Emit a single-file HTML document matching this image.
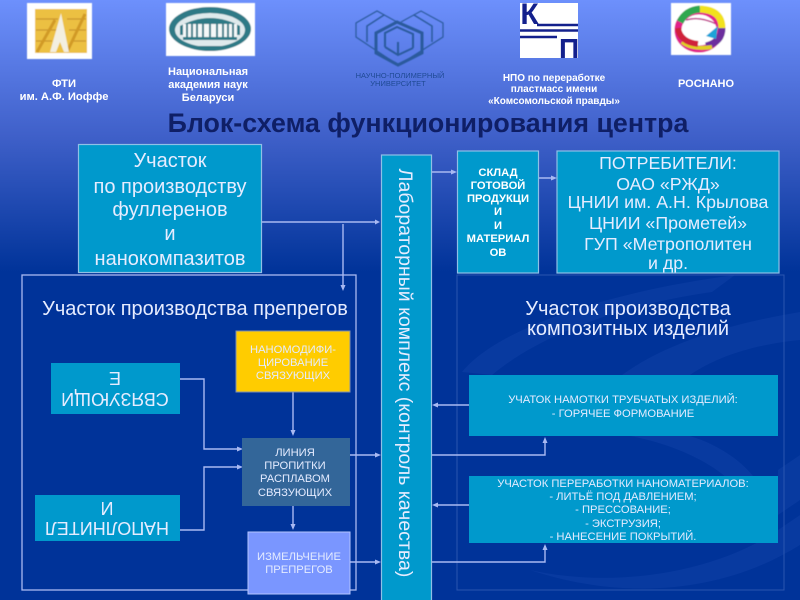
<!DOCTYPE html>
<html><head><meta charset="utf-8"><style>
html,body{margin:0;padding:0;background:#003399}
svg{display:block}
text{font-family:"Liberation Sans",sans-serif;text-anchor:middle}
.w{fill:#fff;font-weight:bold;font-size:11px}
.b{fill:#e6ecff;font-size:20px}
.s{fill:#e4ebff;font-size:11.200px}
.sb{fill:#fff;font-weight:bold;font-size:11.200px}
.l{stroke:#a9b9f2;stroke-width:1.4;fill:none}
.a{fill:#a9b9f2}
</style></head><body>
<svg width="800" height="600" viewBox="0 0 800 600" xmlns="http://www.w3.org/2000/svg">
<defs>
<linearGradient id="g" x1="0" y1="0" x2="0" y2="1"><stop offset="0" stop-color="#6d90fc"/><stop offset=".5" stop-color="#3f60c9"/><stop offset="1" stop-color="#003399"/></linearGradient>
<filter id="bl" x="-5%" y="-5%" width="110%" height="110%"><feGaussianBlur stdDeviation="0.600"/></filter>
</defs>
<rect width="800" height="600" fill="#003399"/>
<rect width="800" height="272" fill="url(#g)"/>

<g fill="#083aa0">
<path d="M462 372C500 325 620 290 735 275L712 292C620 305 540 335 492 375Z"/>
<path d="M622 375C670 340 740 322 800 312V340C750 345 715 358 690 375Z"/>
<path d="M630 436C680 445 730 470 745 500L762 490C750 465 720 445 690 436Z"/>
<path d="M778 470L800 455V500L778 515Z"/>
<path d="M530 570C620 590 720 570 778 530L800 515V545C720 595 620 600 530 570Z"/>
</g>

<!-- logos -->
<g filter="url(#bl)">
<rect x="27" y="3" width="65" height="56" fill="#fff"/>
<rect x="35" y="9" width="52" height="44" fill="#ecc043"/>
<path d="M36 19H58M67 19H86M36 30H56M69 30H86M36 41H52M72 41H86" stroke="#c9942a" stroke-width="1.300"/>
<path d="M37 52L55 20M67 52L85 14" stroke="#d19a26" stroke-width="3"/>
<path d="M61 13L69 52H64L60 42L56 52H50Z" fill="#f3efe0"/>
<rect x="166" y="3" width="89" height="53" fill="#fff"/>
<ellipse cx="210" cy="29" rx="41" ry="22" fill="#2d7a86"/>
<ellipse cx="210" cy="30" rx="35" ry="17" fill="#dfeaec"/>
<path d="M180 26Q210 10 240 26V35H180Z" fill="#2d7a86"/>
<path d="M183 24H237V37H183Z" fill="#f4f8f8"/>
<path d="M183 37H237V40H183Z" fill="#2d7a86"/>
<path d="M187 24V37M192 24V37M197 24V37M203 24V37M210 24V37M217 24V37M223 24V37M228 24V37M233 24V37" stroke="#2d7a86" stroke-width="2"/>
<path d="M197 46H223V50H197Z" fill="#2d7a86"/>
<g fill="none" stroke="#2a5a9c">
<path d="M397 22L377 11L356 23V37L395 63" stroke-width="1.200"/>
<path d="M401 22L421 11L443 23V37L402 63" stroke-width="1.200"/>
<path d="M367 42V26L384 15M432 42V26L414 15" stroke-width="1.500"/>
<path d="M376 33L397 22L422 33V53L398 65L376 53Z" stroke-width="3"/>
<path d="M385 47V33L397 27L413 34V48M385 47L398 55L413 48M398 55V42" stroke-width="2"/>
</g>
</g>
<text x="400" y="78" style="font-size:7.500px;fill:#1f4a94">НАУЧНО-ПОЛИМЕРНЫЙ</text>
<text x="398" y="86" style="font-size:7.500px;fill:#1f4a94">УНИВЕРСИТЕТ</text>
<rect x="520" y="3" width="58" height="55" fill="#fff"/>
<path d="M537 25H578M520 30.500H578M520 37H557" stroke="#13208c" stroke-width="2.400"/>
<text x="529.500" y="24" style="font-size:30px;font-weight:bold;fill:#13208c">К</text>
<text x="569" y="58" style="font-size:28px;font-weight:bold;fill:#13208c">П</text>
<g filter="url(#bl)">
<rect x="671" y="3" width="60" height="52" fill="#fff"/>
<ellipse cx="699" cy="30" rx="21" ry="19" fill="none" stroke="#e0208a" stroke-width="7"/>
<path d="M680 22Q686 10 700 9" fill="none" stroke="#2fa84f" stroke-width="7"/>
<path d="M700 9Q722 10 722 28" fill="none" stroke="#f2e21c" stroke-width="7"/>
<path d="M722 28Q722 42 706 46" fill="none" stroke="#6d2f9e" stroke-width="7"/>
<path d="M682 42Q692 50 712 47" fill="none" stroke="#e0d020" stroke-width="4"/>
<path d="M678 28Q680 42 698 44" fill="none" stroke="#d0203a" stroke-width="6"/>
<path d="M706 36L718 26L716 39Z" fill="#1fa3d8"/>
<path d="M686 20Q700 16 716 24" fill="none" stroke="#c0308a" stroke-width="1.500"/>
</g>

<text class="w" x="64" y="87" style="font-size:11.200px">ФТИ</text>
<text class="w" x="64" y="100" style="font-size:11.200px">им. А.Ф. Иоффе</text>
<text class="w" x="208" y="75">Национальная</text>
<text class="w" x="208" y="88">академия наук</text>
<text class="w" x="208" y="101">Беларуси</text>
<text class="w" x="554" y="81" style="font-size:10px">НПО по переработке</text>
<text class="w" x="554" y="92" style="font-size:10px">пластмасс имени</text>
<text class="w" x="554" y="104" style="font-size:10px">«Комсомольской правды»</text>
<text class="w" x="706" y="87">РОСНАНО</text>
<text x="428" y="132" style="font-size:26.800px;font-weight:bold;fill:#0f1f66">Блок-схема функционирования центра</text>

<!-- frames -->
<rect x="22" y="275" width="334" height="315" fill="#003399" stroke="#a9b9f2" stroke-width="1.300"/>
<rect x="457" y="275" width="327" height="315" fill="none" stroke="#2a55b0" stroke-width="1"/>

<!-- connectors -->
<path class="l" d="M262 222H378M343 224V288"/>
<path class="a" d="M380 222L375 219.500V224.500ZM343 291L340.500 285H345.500Z"/>
<path class="l" d="M432 172H454M539 178H554"/>
<path class="a" d="M457 172L451 169.500V174.500ZM557 178L551 175.500V180.500Z"/>
<path class="l" d="M180 379H204V449H240M180 530H204V467H240M293 392V434M293 506V528M350 455H378M350 562H378"/>
<path class="a" d="M243 449L237 446.500V451.500ZM243 467L237 464.500V469.500ZM293 436L290.500 430H295.500ZM293 530L290.500 524H295.500ZM381 455L375 452.500V457.500ZM381 562L375 559.500V564.500Z"/>
<path class="l" d="M469 405H436M432 455H545V440M469 505H436M432 562H545V546"/>
<path class="a" d="M432 405L438 402.500V407.500ZM432 505L438 502.500V507.500ZM545 437L542.500 443H547.500ZM545 544L542.500 550H547.500Z"/>

<!-- boxes -->
<g stroke="#8fc0e6" stroke-width="1.200" fill="#0099cc">
<rect x="78.500" y="144.500" width="183" height="128"/>
<rect x="381.500" y="155" width="50" height="450"/>
<rect x="457.500" y="151" width="81" height="122"/>
<rect x="557" y="151" width="222" height="122"/>
</g>
<rect x="51" y="363" width="129" height="51" fill="#0099cc"/>
<rect x="35" y="495" width="145" height="46" fill="#0099cc"/>
<rect x="236" y="331" width="114" height="61" fill="#ffcc00" stroke="#7f8fb0"/>
<rect x="242" y="438" width="108" height="68" fill="#336699"/>
<rect x="248" y="532" width="102" height="62" fill="#7a96ff" stroke="#b4c4ff"/>
<rect x="469" y="375" width="309" height="61" fill="#0099cc"/>
<rect x="469" y="476" width="309" height="67" fill="#0099cc"/>

<!-- texts -->
<text class="b" x="170" y="167">Участок</text>
<text class="b" x="170" y="193">по производству</text>
<text class="b" x="170" y="216">фуллеренов</text>
<text class="b" x="170" y="240">и</text>
<text class="b" x="170" y="265">нанокомпазитов</text>
<text class="b" x="195" y="315">Участок производства препрегов</text>
<text class="b" x="628" y="315">Участок производства</text>
<text class="b" x="628" y="335">композитных изделий</text>
<text class="b" x="668" y="169" style="font-size:17.800px">ПОТРЕБИТЕЛИ:</text>
<text class="b" x="668" y="190" style="font-size:17.800px">ОАО «РЖД»</text>
<text class="b" x="668" y="208" style="font-size:17.800px">ЦНИИ им. А.Н. Крылова</text>
<text class="b" x="668" y="229" style="font-size:17.800px">ЦНИИ «Прометей»</text>
<text class="b" x="668" y="250" style="font-size:17.800px">ГУП «Метрополитен</text>
<text class="b" x="668" y="269" style="font-size:17.800px">и др.</text>
<text class="b" transform="translate(399,373) rotate(90)" style="font-size:19.500px" x="0" y="0">Лабораторный комплекс (контроль качества)</text>
<text class="b" transform="translate(115,393) rotate(180)" x="0" y="0" style="font-size:18px">СВЯЗУЮЩИ</text>
<text class="b" transform="translate(115,372) rotate(180)" x="0" y="0" style="font-size:18px">Е</text>
<text class="b" transform="translate(107,522) rotate(180)" x="0" y="0" style="font-size:18px">НАПОЛНИТЕЛ</text>
<text class="b" transform="translate(107,502) rotate(180)" x="0" y="0" style="font-size:18px">И</text>
<text class="sb" x="498" y="176">СКЛАД</text>
<text class="sb" x="498" y="189">ГОТОВОЙ</text>
<text class="sb" x="498" y="202">ПРОДУКЦИ</text>
<text class="sb" x="498" y="215">И</text>
<text class="sb" x="498" y="229">И</text>
<text class="sb" x="498" y="242">МАТЕРИАЛ</text>
<text class="sb" x="498" y="256">ОВ</text>
<text class="s" x="293" y="353">НАНОМОДИФИ-</text>
<text class="s" x="293" y="366">ЦИРОВАНИЕ</text>
<text class="s" x="293" y="379">СВЯЗУЮЩИХ</text>
<text class="s" x="295" y="456">ЛИНИЯ</text>
<text class="s" x="295" y="469">ПРОПИТКИ</text>
<text class="s" x="295" y="482">РАСПЛАВОМ</text>
<text class="s" x="295" y="496">СВЯЗУЮЩИХ</text>
<text class="s" x="299" y="560">ИЗМЕЛЬЧЕНИЕ</text>
<text class="s" x="299" y="573">ПРЕПРЕГОВ</text>
<text class="s" x="623" y="403">УЧАТОК НАМОТКИ ТРУБЧАТЫХ ИЗДЕЛИЙ:</text>
<text class="s" x="623" y="417">- ГОРЯЧЕЕ ФОРМОВАНИЕ</text>
<text class="s" x="623" y="487">УЧАСТОК ПЕРЕРАБОТКИ НАНОМАТЕРИАЛОВ:</text>
<text class="s" x="623" y="500">- ЛИТЬЁ ПОД ДАВЛЕНИЕМ;</text>
<text class="s" x="623" y="513">- ПРЕССОВАНИЕ;</text>
<text class="s" x="623" y="527">- ЭКСТРУЗИЯ;</text>
<text class="s" x="623" y="540">- НАНЕСЕНИЕ ПОКРЫТИЙ.</text>
</svg>
</body></html>
